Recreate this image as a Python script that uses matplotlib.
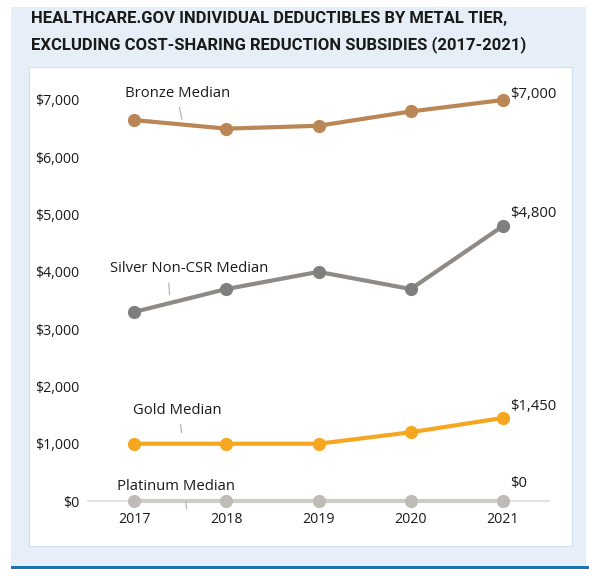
import numpy as np
import matplotlib
matplotlib.use("Agg")
import matplotlib.pyplot as plt
from matplotlib.patches import Rectangle

plt.rcParams['font.family'] = ['Open Sans', 'DejaVu Sans']

years = [2017, 2018, 2019, 2020, 2021]
bronze = [6650, 6500, 6550, 6800, 7000]
silver = [3300, 3700, 4000, 3700, 4800]
gold = [1000, 1000, 1000, 1200, 1450]
platinum = [0, 0, 0, 0, 0]
series_names = ["Bronze Median", "Silver Non-CSR Median", "Gold Median", "Platinum Median"]
end_labels = ["$7,000", "$4,800", "$1,450", "$0"]
yticks = [0, 1000, 2000, 3000, 4000, 5000, 6000, 7000]
ytick_labels = ["$0", "$1,000", "$2,000", "$3,000", "$4,000", "$5,000", "$6,000", "$7,000"]
title = "HEALTHCARE.GOV INDIVIDUAL DEDUCTIBLES BY METAL TIER,\nEXCLUDING COST-SHARING REDUCTION SUBSIDIES (2017-2021)"

W, H = 589, 569
fig = plt.figure(figsize=(W / 100, H / 100), dpi=100)

def frac_rect(x0, y0, x1, y1, **kw):
    # pixel coords from top-left
    return Rectangle((x0 / W, 1 - y1 / H), (x1 - x0) / W, (y1 - y0) / H,
                     transform=fig.transFigure, **kw)

fig.patches.append(frac_rect(11, 7, 586, 567, facecolor="#e6eff7", edgecolor="none", zorder=0))
fig.patches.append(frac_rect(11, 566, 589, 569, facecolor="#1a75b5", edgecolor="none", zorder=1))
fig.patches.append(frac_rect(29, 67, 572, 546, facecolor="white", edgecolor="#cfe2f1", linewidth=0.8, zorder=1))

fig.text(31 / W, 1 - 11 / H, title, ha="left", va="top",
         fontsize=12, fontweight="bold", color="#1a1a1a", family=['Roboto', 'Open Sans'],
         linespacing=1.75, zorder=3)

# axes: x 88..549 px, y: 0 at 501, 7000 at 100
left, right = 88, 549
bottom = 501
top_val = 7400
px_per = (501 - 100) / 7000
top = bottom - top_val * px_per
ax = fig.add_axes([left / W, 1 - bottom / H, (right - left) / W, (bottom - top) / H])
ax.set_zorder(5)
ax.set_xlim(2016.5, 2021.5)
ax.set_ylim(0, top_val)
ax.set_facecolor("none")
for s in ["top", "right", "left"]:
    ax.spines[s].set_visible(False)
ax.spines["bottom"].set_color("#dcdcdc")
ax.spines["bottom"].set_linewidth(1.2)
ax.set_xticks(years)
ax.set_xticklabels([str(y) for y in years])
ax.set_yticks(yticks)
ax.set_yticklabels(ytick_labels)
ax.tick_params(axis="both", length=0, labelsize=10.2, colors="#1a1a1a")
ax.tick_params(axis="x", pad=8)
ax.tick_params(axis="y", pad=6)

data = [bronze, silver, gold, platinum]
line_colors = ["#ba8655", "#8e8a85", "#f5a71f", "#cfccc8"]
marker_colors = ["#ba8655", "#7f7f7f", "#f5a71f", "#bfbcb7"]
for vals, lc, mc in zip(data, line_colors, marker_colors):
    ax.plot(years, vals, color=lc, linewidth=3, zorder=3, clip_on=False)
    ax.plot(years, vals, linestyle="none", marker="o", markersize=8.5,
            markerfacecolor=mc, markeredgecolor=mc, zorder=4, clip_on=False)

# series labels with leader lines: (x on line, text offset px, relpos x, shrinkB, leader end shift px)
label_specs = [
    (2017.53, (-5, 24), 0.5, 4, 0),
    (2017.39, (19, 27), 0.37, 6, 0),
    (2017.53, (-6, 26), 0.53, 8, 0),
    (2017.57, (-11, 15), 0.58, 0, 8),
]
for name, vals, (xq, off, rx, shr, dn) in zip(series_names, data, label_specs):
    yq = np.interp(xq, years, vals) - dn / px_per
    ax.annotate(name, xy=(xq, yq), xytext=off, textcoords="offset pixels",
                ha="center", va="bottom", fontsize=10.7, color="#1a1a1a",
                annotation_clip=False,
                arrowprops=dict(arrowstyle="-", color="#bdbdbd", lw=1,
                                relpos=(rx, 0), shrinkA=3, shrinkB=shr))

end_offsets = [(7, 5), (7, 13), (7, 11), (7, 17)]
for lab, vals, off in zip(end_labels, data, end_offsets):
    ax.annotate(lab, xy=(years[-1], vals[-1]), xytext=off, textcoords="offset pixels",
                ha="left", va="center", fontsize=10.7, color="#1a1a1a",
                annotation_clip=False)

fig.savefig("out.png", dpi=100)
